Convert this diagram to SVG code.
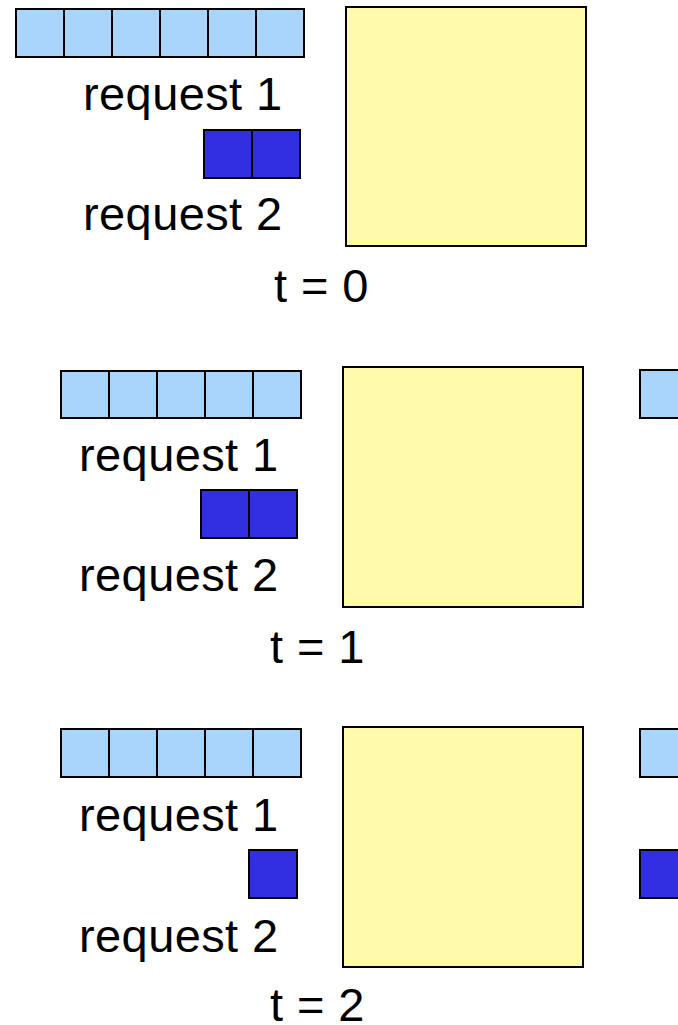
<svg xmlns="http://www.w3.org/2000/svg" width="678" height="1025" viewBox="0 0 678 1025">
<style>
.lb{fill:#a9d5fd;stroke:#000;stroke-width:2}
.db{fill:#3030e2;stroke:#000;stroke-width:2}
.y{fill:#fffbaa;stroke:#000;stroke-width:2}
.t{font-family:"Liberation Sans",Arial,sans-serif;font-size:47px;letter-spacing:0.4px;fill:#000}
</style>
<rect width="678" height="1025" fill="#fff"/>
<g id="panel0">
<rect class="lb" x="16" y="9" width="48" height="48"/>
<rect class="lb" x="64" y="9" width="48" height="48"/>
<rect class="lb" x="112" y="9" width="48" height="48"/>
<rect class="lb" x="160" y="9" width="48" height="48"/>
<rect class="lb" x="208" y="9" width="48" height="48"/>
<rect class="lb" x="256" y="9" width="48" height="48"/>
<rect class="db" x="204" y="130" width="48" height="48"/>
<rect class="db" x="252" y="130" width="48" height="48"/>
<rect class="y" x="346" y="7" width="240" height="239"/>
<text class="t" x="83" y="110">request 1</text>
<text class="t" x="83" y="230">request 2</text>
<text class="t" x="274" y="302">t = 0</text>
</g>
<g id="panel1">
<rect class="lb" x="61" y="371" width="48" height="47"/>
<rect class="lb" x="109" y="371" width="48" height="47"/>
<rect class="lb" x="157" y="371" width="48" height="47"/>
<rect class="lb" x="205" y="371" width="48" height="47"/>
<rect class="lb" x="253" y="371" width="48" height="47"/>
<rect class="db" x="201" y="490" width="48" height="48"/>
<rect class="db" x="249" y="490" width="48" height="48"/>
<rect class="y" x="343" y="367" width="240" height="240"/>
<rect class="lb" x="640" y="370" width="60" height="48"/>
<text class="t" x="79" y="471">request 1</text>
<text class="t" x="79" y="591">request 2</text>
<text class="t" x="270" y="663">t = 1</text>
</g>
<g id="panel2">
<rect class="lb" x="61" y="729" width="48" height="48"/>
<rect class="lb" x="109" y="729" width="48" height="48"/>
<rect class="lb" x="157" y="729" width="48" height="48"/>
<rect class="lb" x="205" y="729" width="48" height="48"/>
<rect class="lb" x="253" y="729" width="48" height="48"/>
<rect class="db" x="249" y="850" width="48" height="48"/>
<rect class="y" x="343" y="727" width="240" height="240"/>
<rect class="lb" x="640" y="729" width="60" height="48"/>
<rect class="db" x="640" y="850" width="60" height="48"/>
<text class="t" x="79" y="831">request 1</text>
<text class="t" x="79" y="952">request 2</text>
<text class="t" x="270" y="1021">t = 2</text>
</g>
</svg>
